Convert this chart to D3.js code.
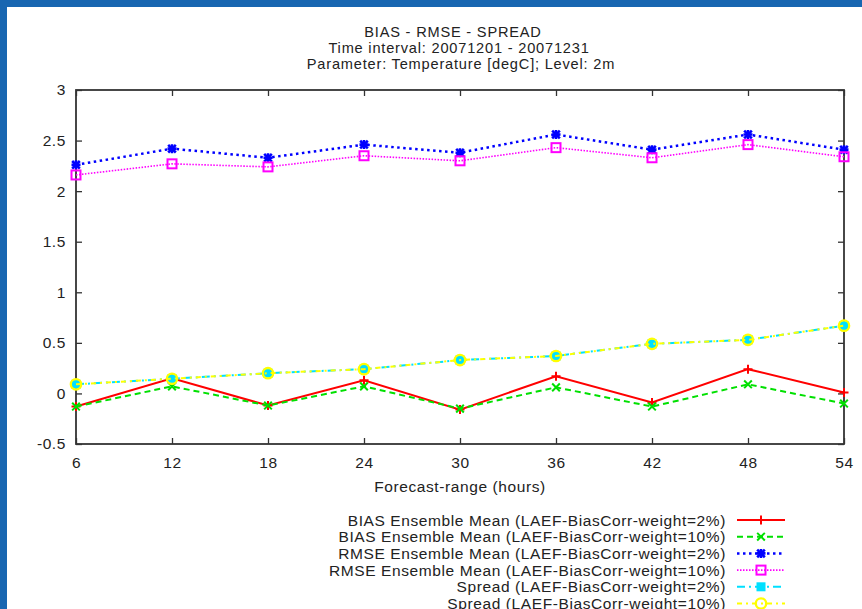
<!DOCTYPE html>
<html>
<head>
<meta charset="utf-8">
<script src="https://cdn.jsdelivr.net/npm/d3@7"></script>
<style>
  html, body { margin: 0; padding: 0; background: #fff; }
  svg { display: block; }
  text { font-family: "Liberation Sans", Arial, Helvetica, sans-serif; fill: #222; }
</style>
</head>
<body>
<svg id="chart" width="862" height="609"></svg>
<script>
// Forecast ranges (hours) and verification scores
const hours = [6, 12, 18, 24, 30, 36, 42, 48, 54];
const bias2 = [-0.13, 0.15, -0.12, 0.13, -0.16, 0.17, -0.09, 0.24, 0.01];
const bias10 = [-0.13, 0.07, -0.12, 0.07, -0.15, 0.06, -0.13, 0.09, -0.10];
const rmse2 = [2.26, 2.42, 2.33, 2.46, 2.38, 2.56, 2.41, 2.56, 2.41];
const rmse10 = [2.16, 2.27, 2.24, 2.35, 2.30, 2.43, 2.33, 2.46, 2.34];
const spread2 = [0.09, 0.145, 0.20, 0.24, 0.33, 0.37, 0.49, 0.53, 0.67];
const spread10 = [0.09, 0.145, 0.20, 0.24, 0.33, 0.37, 0.49, 0.53, 0.67];

const yTicks = [3, 2.5, 2, 1.5, 1, 0.5, 0, -0.5];
const yTickLabels = ["3", "2.5", "2", "1.5", "1", "0.5", "0", "-0.5"];
const xTicks = [6, 12, 18, 24, 30, 36, 42, 48, 54];
const xTickLabels = ["6", "12", "18", "24", "30", "36", "42", "48", "54"];

const titleLines = [
  "BIAS - RMSE - SPREAD",
  "Time interval: 20071201 - 20071231",
  "Parameter: Temperature [degC]; Level: 2m"
];
const xLabel = "Forecast-range (hours)";

const seriesNames = [
  "BIAS Ensemble Mean (LAEF-BiasCorr-weight=2%)",
  "BIAS Ensemble Mean (LAEF-BiasCorr-weight=10%)",
  "RMSE Ensemble Mean (LAEF-BiasCorr-weight=2%)",
  "RMSE Ensemble Mean (LAEF-BiasCorr-weight=10%)",
  "Spread (LAEF-BiasCorr-weight=2%)",
  "Spread (LAEF-BiasCorr-weight=10%)"
];
const seriesValues = [bias2, bias10, rmse2, rmse10, spread2, spread10];

// line/marker styling per series
const styles = [
  { color: "#ff0000", dash: null,            width: 2,   marker: "plus" },
  { color: "#00e000", dash: "6,4",           width: 2,   marker: "cross" },
  { color: "#0000ff", dash: "2.5,3.5",       width: 2.5, marker: "star" },
  { color: "#ff00ff", dash: "1.5,1.5",       width: 1.6, marker: "square" },
  { color: "#00e0ff", dash: "8,4,2,4",       width: 2,   marker: "fsquare" },
  { color: "#ffff00", dash: "5,4,2,4",       width: 2,   marker: "circle" }
];

const FONT = 15.5;
const svg = d3.select("#chart");

// frame band along the top and left edges
svg.append("rect").attr("x", 0).attr("y", 0).attr("width", 862).attr("height", 7).attr("fill", "#1866b1");
svg.append("rect").attr("x", 0).attr("y", 0).attr("width", 7).attr("height", 609).attr("fill", "#1866b1");

const plot = { left: 76, right: 844, top: 90, bottom: 444 };

const x = d3.scaleLinear().domain([6, 54]).range([plot.left, plot.right]);
const y = d3.scaleLinear().domain([-0.5, 3]).range([plot.bottom, plot.top]);

// titles
const titleX = [453, 459, 461];
const titleY = [37, 53, 68.5];
titleLines.forEach((t, i) => {
  svg.append("text")
    .attr("x", titleX[i]).attr("y", titleY[i])
    .attr("text-anchor", "middle")
    .style("font-size", "14.6px")
    .style("letter-spacing", "0.8px")
    .text(t);
});

// axes with inward ticks on all four sides
const axisColor = "#333";
function styleAxis(g) {
  g.select(".domain").remove();
  g.selectAll(".tick line").attr("stroke", axisColor).attr("stroke-width", 1.3);
  g.selectAll(".tick text")
    .style("font-size", FONT + "px")
    .style("letter-spacing", "0.6px")
    .style("font-family", "'Liberation Sans', Arial, sans-serif")
    .attr("fill", "#222");
}

svg.append("g").attr("transform", `translate(${plot.left},0)`)
  .call(d3.axisLeft(y).tickValues(yTicks).tickSize(-6).tickPadding(10)
    .tickFormat((d, i) => yTickLabels[i]))
  .call(styleAxis);
svg.append("g").attr("transform", `translate(${plot.right},0)`)
  .call(d3.axisRight(y).tickValues(yTicks).tickSize(-6).tickFormat(""))
  .call(styleAxis);
svg.append("g").attr("transform", `translate(0,${plot.bottom})`)
  .call(d3.axisBottom(x).tickValues(xTicks).tickSize(-6).tickPadding(13)
    .tickFormat((d, i) => xTickLabels[i]))
  .call(styleAxis);
svg.append("g").attr("transform", `translate(0,${plot.top})`)
  .call(d3.axisTop(x).tickValues(xTicks).tickSize(-6).tickFormat(""))
  .call(styleAxis);

svg.append("rect")
  .attr("x", plot.left).attr("y", plot.top)
  .attr("width", plot.right - plot.left).attr("height", plot.bottom - plot.top)
  .attr("fill", "none").attr("stroke", axisColor).attr("stroke-width", 1.8);

svg.append("text")
  .attr("x", (plot.left + plot.right) / 2).attr("y", 492)
  .attr("text-anchor", "middle")
  .style("font-size", FONT + "px")
  .style("letter-spacing", "0.6px")
  .text(xLabel);

// marker drawing
function drawMarker(g, type, cx, cy, color) {
  const s = 4.5;
  if (type === "plus" || type === "star") {
    g.append("path").attr("d", `M${cx - s},${cy}H${cx + s}M${cx},${cy - s}V${cy + s}`)
      .attr("stroke", color).attr("stroke-width", type === "star" ? 2.6 : 2).attr("fill", "none");
  }
  if (type === "cross" || type === "star") {
    const k = s * 0.85;
    g.append("path").attr("d", `M${cx - k},${cy - k}L${cx + k},${cy + k}M${cx - k},${cy + k}L${cx + k},${cy - k}`)
      .attr("stroke", color).attr("stroke-width", type === "star" ? 2.6 : 2).attr("fill", "none");
  }
  if (type === "square") {
    g.append("rect").attr("x", cx - 4.5).attr("y", cy - 4.5).attr("width", 9).attr("height", 9)
      .attr("stroke", color).attr("stroke-width", 2).attr("fill", "none");
  }
  if (type === "fsquare") {
    g.append("rect").attr("x", cx - 4.5).attr("y", cy - 4.5).attr("width", 9).attr("height", 9)
      .attr("fill", color);
  }
  if (type === "circle") {
    g.append("circle").attr("cx", cx).attr("cy", cy).attr("r", 5.2)
      .attr("stroke", color).attr("stroke-width", 2.3).attr("fill", "none");
  }
}

const line = d3.line().x(d => x(d[0])).y(d => y(d[1]));

const dataLayer = svg.append("g");
seriesValues.forEach((vals, i) => {
  const st = styles[i];
  const pts = hours.map((h, j) => [h, vals[j]]);
  dataLayer.append("path")
    .datum(pts)
    .attr("d", line)
    .attr("fill", "none")
    .attr("stroke", st.color)
    .attr("stroke-width", st.width)
    .attr("stroke-dasharray", st.dash);
  pts.forEach(p => drawMarker(dataLayer, st.marker, x(p[0]), y(p[1]), st.color));
});

// legend
const legend = svg.append("g");
const legTextX = 726, legLine0 = 737, legLine1 = 785, legY0 = 520, legStep = 16.7;
seriesNames.forEach((name, i) => {
  const st = styles[i];
  const ly = legY0 + i * legStep;
  legend.append("text")
    .attr("x", legTextX).attr("y", ly + 5.5)
    .attr("text-anchor", "end")
    .style("font-size", FONT + "px")
    .style("letter-spacing", "0.6px")
    .text(name);
  legend.append("line")
    .attr("x1", legLine0).attr("x2", legLine1).attr("y1", ly).attr("y2", ly)
    .attr("stroke", st.color).attr("stroke-width", st.width)
    .attr("stroke-dasharray", st.dash);
  drawMarker(legend, st.marker, (legLine0 + legLine1) / 2, ly, st.color);
});
</script>
</body>
</html>
